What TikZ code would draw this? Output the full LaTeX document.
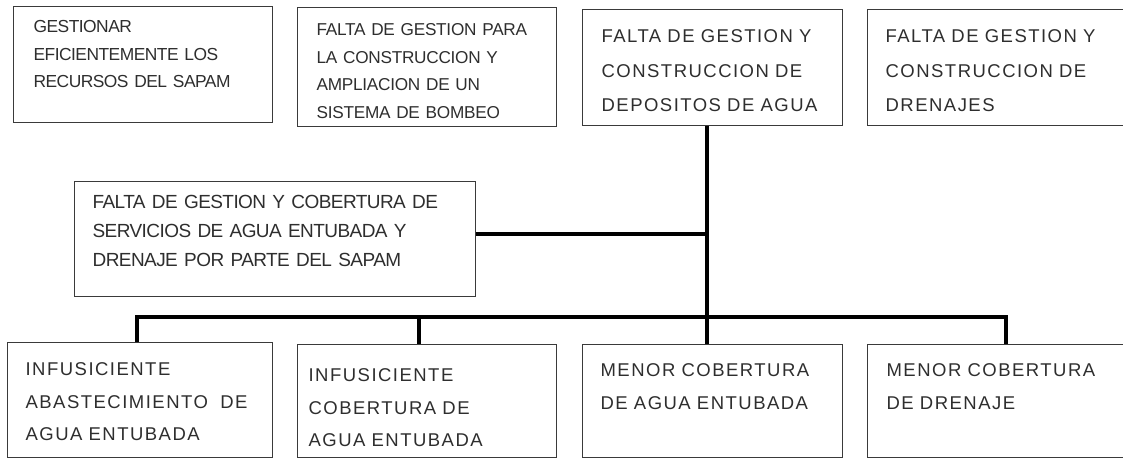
\documentclass[tikz,border=0pt]{standalone}
\usepackage{fontspec}
\usepackage{tikz}
\usetikzlibrary{shapes,positioning,calc}
\newfontfamily\boxfont{Liberation Sans}
\newfontfamily\tightboxfont[LetterSpace=-3]{Liberation Sans}
\newfontfamily\snugboxfont[LetterSpace=-1.5]{Liberation Sans}
\newfontfamily\wideboxfont[LetterSpace=8]{Liberation Sans}
\definecolor{boxgray}{HTML}{3A3A3A}
\definecolor{textgray}{HTML}{2E2E2E}
\tikzstyle{box} = [rectangle, draw=boxgray, line width=1.2pt, anchor=north west, inner ysep=0pt, align=left, text=textgray]
\tikzstyle{upper} = [box, font={\wideboxfont\fontsize{18.5}{34.5}\selectfont}, text height=33pt, text depth=83pt]
\tikzstyle{lower} = [box, font={\wideboxfont\fontsize{18.5}{32.5}\selectfont}, text height=32pt, text depth=81pt]
\tikzstyle{bar} = [draw, line width=3.5pt, black]

\begin{document}
\begin{tikzpicture}[x=1pt, y=-1pt]
	\useasboundingbox (0,0) rectangle (1123,460);
	\clip (0,0) rectangle (1123,460);
	%Place nodes
	\node [box, font={\tightboxfont\fontsize{17.4}{27.5}\selectfont}, inner xsep=20pt, text width=219pt, text height=26pt, text depth=90pt] (Recursos) at (13,6) {GESTIONAR\\EFICIENTEMENTE LOS\\RECURSOS DEL SAPAM};
	\node [box, font={\snugboxfont\fontsize{17.2}{27.7}\selectfont}, inner xsep=19pt, text width=221pt, text height=28pt, text depth=91pt] (Bombeo) at (297,7) {FALTA DE GESTION PARA\\LA CONSTRUCCION Y\\AMPLIACION DE UN\\SISTEMA DE BOMBEO};
	\node [upper, inner xsep=19pt, text width=222pt] (Depositos) at (582,9) {FALTA DE GESTION Y\\CONSTRUCCION DE\\DEPOSITOS DE AGUA};
	\node [upper, inner xsep=18pt, text width=234pt] (Drenajes) at (867,9) {FALTA DE GESTION Y\\CONSTRUCCION DE\\DRENAJES};
	\node [box, font={\tightboxfont\fontsize{19}{29}\selectfont}, inner xsep=18pt, text width=365pt, text height=27pt, text depth=88pt] (Sapam) at (74,181) {FALTA DE GESTION Y COBERTURA DE\\SERVICIOS DE AGUA ENTUBADA Y\\DRENAJE POR PARTE DEL SAPAM};
	\node [lower, inner xsep=18pt, text width=229pt, text height=33pt, text depth=82pt] (Abasto) at (7,342) {INFUSICIENTE\\ABASTECIMIENTO~ DE\\AGUA ENTUBADA};
	\node [lower, inner xsep=11pt, text width=237pt, text height=37pt, text depth=76pt] (CobAgua) at (297,344) {INFUSICIENTE\\COBERTURA DE\\AGUA ENTUBADA};
	\node [lower, inner xsep=18pt, text width=224pt] (MenorAgua) at (582,344) {MENOR COBERTURA\\DE AGUA ENTUBADA};
	\node [lower, inner xsep=19pt, text width=232pt] (MenorDren) at (867,344) {MENOR COBERTURA\\DE DRENAJE};

	%Junctions
	\coordinate (hub) at (707,317);
	\coordinate (tee) at (707,234);
	\coordinate (busL) at (137,317);
	\coordinate (busG) at (419,317);
	\coordinate (busR) at (1006,317);

	\path [bar] (Depositos.south -| hub) -- (hub |- MenorAgua.north);
	\path [bar] (Sapam.east |- tee) -- (tee);
	\path [bar] (busL |- Abasto.north) -- (busL) -- (busR) -- (busR |- MenorDren.north);
	\path [bar] (busG) -- (busG |- CobAgua.north);

\end{tikzpicture}
\end{document}
